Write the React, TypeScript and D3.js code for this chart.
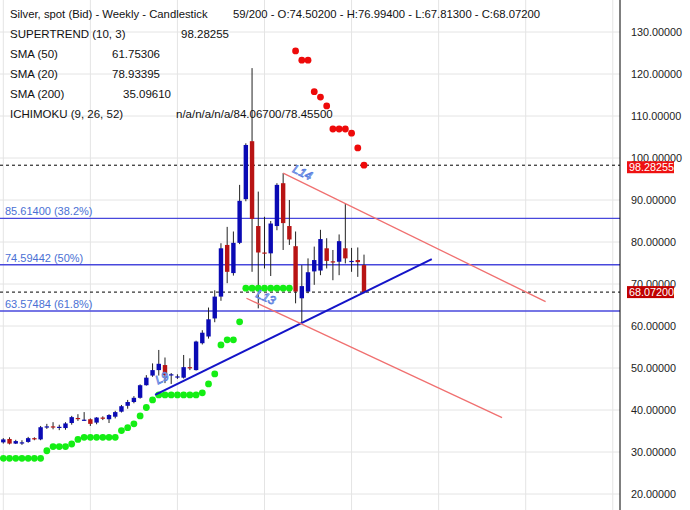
import * as d3 from "d3";

// weekly bars, oldest first
const opens = [32.3, 33.1, 32.0, 32.1, 32.4, 33.3, 33.0, 35.9, 36.1, 35.8, 35.7, 36.9, 38.1, 37.6, 37.8, 37.0, 38.2, 37.8, 38.4, 39.6,
  41.0, 41.9, 42.9, 45.9, 48.2, 49.5, 50.7, 48.4, 47.9, 47.7, 50.2, 49.5, 55.9, 57.5, 61.8, 67.0, 79.3, 72.6, 79.8, 90.2,
  104.0, 83.8, 77.5, 77.3, 83.8, 94.0, 83.8, 79.0, 66.6, 68.2, 73.0, 73.2, 78.5, 75.4, 75.3, 78.5, 75.3, 75.7, 74.502];
const highs = [33.3, 33.5, 32.9, 32.8, 33.6, 33.5, 36.2, 36.7, 37.1, 36.5, 37.1, 38.6, 39.0, 39.5, 38.0, 38.3, 38.5, 39.0, 39.8, 41.2,
  42.4, 43.3, 46.1, 48.3, 51.1, 54.3, 52.5, 48.8, 48.5, 53.1, 52.3, 56.5, 59.0, 64.4, 68.5, 79.7, 83.6, 82.5, 93.6, 103.5,
  121.4, 92.0, 86.0, 85.0, 94.0, 96.4, 90.0, 82.5, 74.5, 76.1, 78.9, 82.9, 80.9, 78.1, 81.8, 89.2, 78.6, 78.7, 76.994];
const lows = [32.0, 31.8, 31.9, 31.7, 32.2, 32.8, 32.8, 35.5, 35.4, 35.2, 35.3, 36.5, 37.4, 37.4, 36.2, 36.6, 37.6, 36.9, 38.0, 39.4,
  40.3, 41.6, 42.7, 45.8, 47.9, 48.2, 46.4, 46.2, 47.4, 47.5, 49.5, 49.4, 55.6, 57.0, 60.9, 66.0, 70.2, 72.0, 79.5, 89.7,
  72.9, 64.2, 73.7, 71.9, 82.8, 78.1, 79.3, 65.4, 60.8, 67.8, 69.8, 72.1, 73.7, 70.9, 72.1, 74.9, 72.9, 71.7, 67.813];
const closes = [33.0, 32.0, 32.6, 32.3, 33.3, 33.0, 35.9, 36.1, 35.9, 36.0, 36.8, 38.3, 37.9, 37.7, 36.7, 38.2, 38.0, 38.8, 39.5, 40.9,
  41.9, 42.9, 45.9, 47.7, 49.5, 51.0, 48.3, 48.5, 48.0, 50.2, 50.0, 56.3, 58.4, 61.6, 67.0, 78.5, 72.9, 79.8, 89.8, 103.1,
  85.5, 77.5, 77.3, 84.4, 93.6, 84.5, 80.6, 68.2, 69.5, 72.8, 75.7, 80.7, 75.5, 75.3, 80.2, 76.1, 75.5, 75.2, 68.072];

// SUPERTREND (10, 3)
const supertrend = [28.5, 28.5, 28.5, 28.5, 28.5, 28.5, 28.5, 30.3, 31.3, 31.3, 31.3, 31.9, 33.0, 33.5, 33.5, 33.5, 33.5, 33.5, 33.5, 35.1,
  35.8, 36.7, 38.6, 40.6, 42.4, 43.6, 43.6, 43.6, 43.6, 43.6, 43.6, 43.6, 44.1, 46.2, 48.6, 55.5, 56.7, 56.7, 61.0, 69.0,
  69.0, 69.0, 69.0, 69.0, 69.0, 69.0, 69.0, 125.5, 123.3, 123.3, 115.8, 114.5, 112.4, 106.9, 106.9, 106.9, 105.9, 102.4, 98.28255];

const fibValues = [85.614, 74.59442, 63.57484];
const fibLabels = ["85.61400 (38.2%)", "74.59442 (50%)", "63.57484 (61.8%)"];

// drawn trend lines: [bar index, price] start and end
const lineNames = ["L9", "L13", "L14"];
const lineStart = [[24.4, 43.6], [39.1, 66.6], [45.0, 96.4]];
const lineEnd = [[68.9, 75.9], [80.2, 38.2], [87.2, 65.8]];

const yTicks = [20, 30, 40, 50, 60, 70, 80, 90, 100, 110, 120, 130];
const xGridBars = [0, 14, 28, 42, 56, 70, 84, 98];

const legendNames = ["SUPERTREND (10, 3)", "SMA (50)", "SMA (20)", "SMA (200)", "ICHIMOKU (9, 26, 52)"];
const legendValues = ["98.28255", "61.75306", "78.93395", "35.09610", "n/a/n/a/n/a/84.06700/78.45500"];
const legendValueX = [181, 112, 112, 123, 176];

const lastClose = 68.072;
const lastStop = 98.28255;

const W = 690;
const H = 510;
const AXIS_X = 620;
const FONT = "'Liberation Sans', Arial, sans-serif";

export default function App() {
  const x = d3.scaleLinear().domain([0, 58]).range([3.3, 364]);
  const y = d3.scaleLinear().domain([20, 130]).range([494, 32]);
  const bw = 4.4;

  const lineColors = ["#1414c8", "#f07070", "#f07070"];
  const labelLift = [-8, -5, -5];

  return (
    <svg width={W} height={H} style={{ position: "absolute", left: 0, top: 0, background: "#fff", fontFamily: FONT }}>
      <rect width={W} height={H} fill="#fff" />
      {/* grid */}
      {yTicks.map(t => (
        <line key={"h" + t} x1={0} x2={AXIS_X} y1={y(t)} y2={y(t)} stroke="#e4e4e4" />
      ))}
      {xGridBars.map(b => (
        <line key={"v" + b} x1={x(b)} x2={x(b)} y1={0} y2={H} stroke="#e4e4e4" />
      ))}

      {/* fibonacci levels */}
      {fibValues.map((v, i) => (
        <g key={"f" + i}>
          <line x1={0} x2={AXIS_X} y1={y(v)} y2={y(v)} stroke="#4848dc" strokeWidth={1.4} />
          <text x={5} y={y(v) - 3} fontSize={11} fill="#4a70d4">{fibLabels[i]}</text>
        </g>
      ))}

      {/* dashed price lines */}
      {[lastStop, lastClose].map(v => (
        <line key={"d" + v} x1={0} x2={AXIS_X} y1={y(v)} y2={y(v)} stroke="#000" strokeDasharray="3,3" />
      ))}

      {/* candles */}
      {opens.map((o, i) => {
        const c = closes[i];
        const up = c >= o;
        const top = y(Math.max(o, c));
        const bot = y(Math.min(o, c));
        return (
          <g key={"c" + i}>
            <line x1={x(i)} x2={x(i)} y1={y(highs[i])} y2={y(lows[i])} stroke="#222" strokeWidth={1} />
            <rect x={x(i) - bw / 2} y={top} width={bw} height={Math.max(1.2, bot - top)} fill={up ? "#0a0ab4" : "#b81414"} />
          </g>
        );
      })}

      {/* supertrend dots */}
      {supertrend.map((v, i) => (
        <circle key={"s" + i} cx={x(i)} cy={y(v)} r={3.4} fill={v > closes[i] ? "#ee0a0a" : "#14ee14"} />
      ))}

      {/* trend lines */}
      {lineNames.map((n, i) => {
        const x1 = x(lineStart[i][0]);
        const y1 = y(lineStart[i][1]);
        const x2 = x(lineEnd[i][0]);
        const y2 = y(lineEnd[i][1]);
        const ang = (Math.atan2(y2 - y1, x2 - x1) * 180) / Math.PI;
        return (
          <g key={n}>
            <line x1={x1} x2={x2} y1={y1} y2={y2} stroke={lineColors[i]} strokeWidth={i === 0 ? 2 : 1.3} />
            <text transform={`translate(${x1},${y1}) rotate(${ang}) translate(7,${labelLift[i]})`} fontSize={12} fontStyle="italic"
              fill="#fff" stroke="#5a7ee0" strokeWidth={0.8}>{n}</text>
          </g>
        );
      })}

      {/* right axis */}
      <line x1={AXIS_X} x2={AXIS_X} y1={0} y2={H} stroke="#000" />
      {yTicks.map(t => (
        <text key={"t" + t} x={631} y={y(t) + 4} fontSize={10.8} fill="#222">{t.toFixed(5)}</text>
      ))}
      <rect x={627} y={y(lastStop) - 4} width={47} height={12} fill="#ee1111" />
      <text x={629} y={y(lastStop) + 6} fontSize={10.8} fill="#fff">{lastStop.toFixed(5)}</text>
      <rect x={627} y={y(lastClose) - 6} width={47} height={12} fill="#c00000" />
      <text x={629} y={y(lastClose) + 4} fontSize={10.8} fill="#fff">{lastClose.toFixed(5)}</text>

      {/* legend */}
      <text x={10} y={18} fontSize={11.3} fill="#111">Silver, spot (Bid) - Weekly - Candlestick</text>
      <text x={233} y={18} fontSize={11.3} fill="#111">
        {`59/200 - O:${opens[58].toFixed(5)} - H:${highs[58].toFixed(5)} - L:${lows[58].toFixed(5)} - C:${closes[58].toFixed(5)}`}
      </text>
      {legendNames.map((n, i) => (
        <g key={n}>
          <text x={10} y={38 + i * 20} fontSize={11.5} fill="#111">{n}</text>
          <text x={legendValueX[i]} y={38 + i * 20} fontSize={11.5} fill="#111">{legendValues[i]}</text>
        </g>
      ))}
    </svg>
  );
}
